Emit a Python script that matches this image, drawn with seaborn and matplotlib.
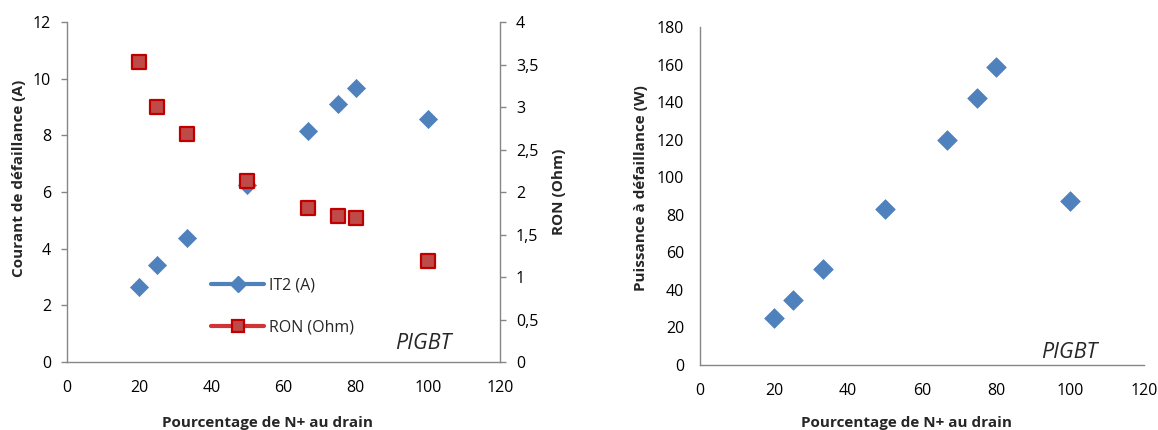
import matplotlib
matplotlib.use("Agg")
import matplotlib.pyplot as plt
from matplotlib.lines import Line2D
from matplotlib.ticker import FuncFormatter
import seaborn as sns
import pandas as pd

pct_n = [20, 25, 33.3, 50, 66.7, 75, 80, 100]
it2_a = [2.66, 3.41, 4.36, 6.25, 8.14, 9.09, 9.67, 8.58]
ron_ohm = [3.53, 3.0, 2.68, 2.13, 1.81, 1.72, 1.70, 1.19]
power_w = [25.2, 34.8, 51.2, 83.2, 119.8, 142.0, 158.5, 87.6]

x_ticks = [0, 20, 40, 60, 80, 100, 120]
it2_ticks = [0, 2, 4, 6, 8, 10, 12]
ron_ticks = [0, 0.5, 1, 1.5, 2, 2.5, 3, 3.5, 4]
power_ticks = [0, 20, 40, 60, 80, 100, 120, 140, 160, 180]

sns.set_theme(style="white")
plt.rcParams['font.family'] = ['Open Sans', 'DejaVu Sans']

BLUE = "#4F81BD"
RED_FACE = "#BE4B48"
RED_EDGE = "#C00000"
GRAY = "#868686"

df = pd.DataFrame({"pct": pct_n, "it2": it2_a, "ron": ron_ohm, "power": power_w})

fig = plt.figure(figsize=(11.58, 4.30), dpi=100)
ax1 = fig.add_axes([0.0579, 0.1581, 0.3739, 0.7907])
ax2 = ax1.twinx()
ax3 = fig.add_axes([0.6045, 0.1512, 0.3834, 0.786])

def style_axis(ax, sides):
    for s in ["top", "right", "left", "bottom"]:
        ax.spines[s].set_visible(s in sides)
        ax.spines[s].set_color(GRAY)
        ax.spines[s].set_linewidth(1.0)
    ax.tick_params(axis="both", which="both", direction="out", length=4.5,
                   width=1.0, color=GRAY, labelsize=11.5, labelcolor="black")
    ax.tick_params(axis="x", pad=8.5)
    ax.tick_params(axis="y", pad=7)

def place_label(label, x, y):
    label.set_position((x, y))

sns.scatterplot(data=df, x="pct", y="it2", ax=ax1, marker="D", s=85,
                color=BLUE, edgecolor=BLUE, linewidth=0.5, zorder=3)
sns.scatterplot(data=df, x="pct", y="ron", ax=ax2, marker="s", s=110,
                color=RED_FACE, edgecolor=RED_EDGE, linewidth=1.6, zorder=3)

ax1.set_xlim(0, 120)
ax1.set_ylim(0, 12)
ax2.set_ylim(0, 4)
ax1.set_xticks(x_ticks)
ax1.set_yticks(it2_ticks)
ax2.set_yticks(ron_ticks)
ax2.yaxis.set_major_formatter(FuncFormatter(lambda v, p: f"{v:g}".replace(".", ",")))

style_axis(ax1, ["left", "bottom"])
style_axis(ax2, ["right", "bottom"])
ax2.spines["bottom"].set_visible(False)
ax1.grid(False)
ax2.grid(False)

ax1.set_xlabel("Pourcentage de N+ au drain", fontsize=11, fontweight="bold")
ax1.set_ylabel("Courant de défaillance (A)", fontsize=11, fontweight="bold")
ax2.set_ylabel("RON (Ohm)", fontsize=11, fontweight="bold")
ax1.xaxis.set_label_coords(0.462, -0.159)
ax1.yaxis.set_label_coords(-0.112, 0.54)
ax1.yaxis.label.set_va("center")
ax2.yaxis.set_label_coords(1.136, 0.50)
ax2.yaxis.label.set_va("center")

handles = [
    Line2D([0], [0], color=BLUE, lw=3, marker="D", markersize=8,
           markerfacecolor=BLUE, markeredgecolor=BLUE),
    Line2D([0], [0], color="#D03434", lw=3, marker="s", markersize=9,
           markerfacecolor=RED_FACE, markeredgecolor=RED_EDGE, markeredgewidth=1.6),
]
ax1.legend(handles, ["IT2 (A)", "RON (Ohm)"], loc="upper left",
           bbox_to_anchor=(0.30, 0.29), frameon=False, fontsize=11.5,
           handlelength=3.3, labelspacing=1.6, handletextpad=0.3)

ax1.text(0.888, 0.025, "PIGBT", transform=ax1.transAxes, fontsize=15.5,
         fontstyle="italic", ha="right", va="bottom")

sns.scatterplot(data=df, x="pct", y="power", ax=ax3, marker="D", s=100,
                color=BLUE, edgecolor=BLUE, linewidth=0.5, zorder=3)
ax3.set_xlim(0, 120)
ax3.set_ylim(0, 180)
ax3.set_xticks(x_ticks)
ax3.set_yticks(power_ticks)
style_axis(ax3, ["left", "bottom"])
ax3.grid(False)
ax3.set_xlabel("Pourcentage de N+ au drain", fontsize=11, fontweight="bold")
ax3.set_ylabel("Puissance à défaillance (W)", fontsize=11, fontweight="bold")
ax3.xaxis.set_label_coords(0.466, -0.151)
ax3.yaxis.set_label_coords(-0.134, 0.524)
ax3.yaxis.label.set_va("center")
ax3.text(0.895, 0.005, "PIGBT", transform=ax3.transAxes, fontsize=15.5,
         fontstyle="italic", ha="right", va="bottom")

fig.savefig("out.png", dpi=100)
